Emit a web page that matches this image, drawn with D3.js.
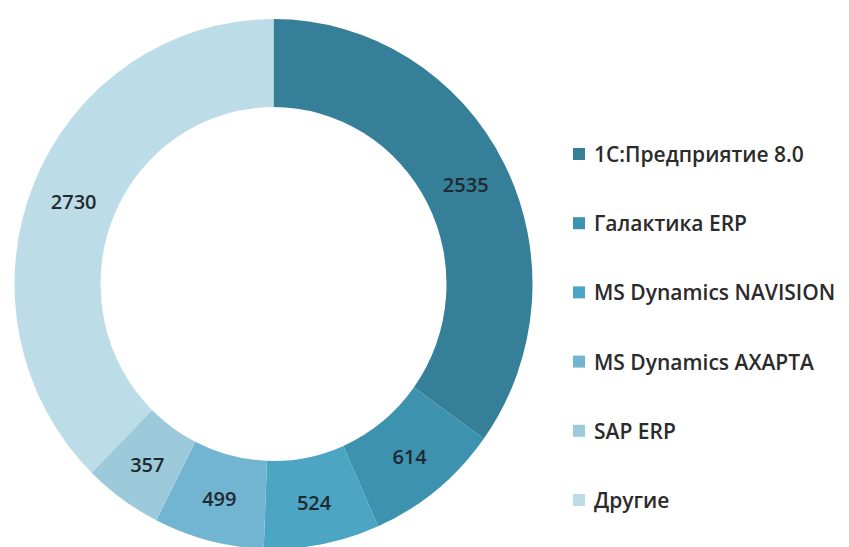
<!DOCTYPE html>
<html>
<head>
<meta charset="utf-8">
<script src="https://cdn.jsdelivr.net/npm/d3@7"></script>
<style>
body { margin: 0; background: #fff; }
svg { display: block; }
</style>
</head>
<body>
<svg width="849" height="547"></svg>
<script>
var names = ["1C:Предприятие 8.0", "Галактика ERP", "MS Dynamics NAVISION", "MS Dynamics AXAPTA", "SAP ERP", "Другие"];
var values = [2535, 614, 524, 499, 357, 2730];
var colors = ["#367f99", "#3d93af", "#4ba5c3", "#72b5d2", "#9ccadb", "#bcdce7"];

var data = names.map(function(n, i) { return {name: n, value: values[i], color: colors[i]}; });

var svg = d3.select("svg");

var pie = d3.pie().sort(null).value(function(d) { return d.value; });
var arc = d3.arc().innerRadius(173).outerRadius(259);

// picture is a little taller than wide, so stretch the ring slightly
var g = svg.append("g")
    .attr("transform", "translate(273.5,284) scale(1,1.023)");

g.selectAll("path")
    .data(pie(data))
    .enter()
    .append("path")
    .attr("d", arc)
    .attr("fill", function(d) { return d.data.color; });

var lbl = svg.append("g").attr("transform", "translate(273.5,284)");
lbl.selectAll("text")
    .data(pie(data))
    .enter()
    .append("text")
    .attr("x", function(d) { return arc.centroid(d)[0]; })
    .attr("y", function(d) { return arc.centroid(d)[1] * 1.023 + 1; })
    .attr("text-anchor", "middle")
    .attr("dominant-baseline", "central")
    .style("font-family", "'Open Sans', sans-serif")
    .style("font-size", "20px")
    .style("font-weight", "600")
    .style("fill", "#1f2a30")
    .text(function(d) { return d.data.value; });

var ly = d3.scalePoint().domain(names).range([154, 500]);

var leg = svg.append("g").selectAll("g")
    .data(data)
    .enter()
    .append("g")
    .attr("transform", function(d) { return "translate(573," + ly(d.name) + ")"; });

leg.append("rect")
    .attr("x", 0)
    .attr("y", -6)
    .attr("width", 12)
    .attr("height", 12)
    .attr("fill", function(d) { return d.color; });

leg.append("text")
    .attr("x", 21)
    .attr("y", 0)
    .attr("dominant-baseline", "central")
    .style("font-family", "'Open Sans', sans-serif")
    .style("font-size", "21px")
    .style("font-weight", "600")
    .style("fill", "#2b2b2b")
    .text(function(d) { return d.name; });
</script>
</body>
</html>
